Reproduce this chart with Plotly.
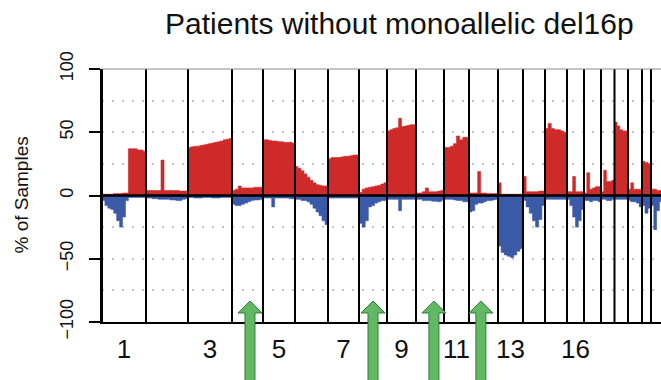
import plotly.graph_objects as go

# Chromosomes 1-22, relative plotting widths (X/Y not shown)
chrom_names = [str(i) for i in range(1, 23)]
chrom_len = [44, 42, 44, 31, 32, 33, 31, 28, 29, 28, 25, 29, 25, 22, 22,
             17, 17, 13.5, 13.5, 14, 9, 14]

# Chromosomes that carry a number under the axis
label_chroms = ["1", "3", "5", "7", "9", "11", "13", "16"]

# Frequency of copy-number gain (%) along each chromosome, evenly spaced bins
gain_pct = [
    [1, 1, 1, 1, 1.5, 1.5, 1.5, 2, 2, 37, 37, 37, 36, 36, 35],
    [4, 4, 4, 4, 4, 28, 4, 4, 4, 4, 4, 3.5, 3.5, 3.5],
    [38, 38.5, 39, 39, 39.5, 40, 40.5, 41, 41.5, 42, 42.5, 43, 44, 44.5, 45],
    [4, 5, 7.5, 6, 6, 6, 6, 6.5, 6.5, 6.5],
    [44, 44, 43.5, 43, 43, 42.5, 42.5, 42, 42, 42, 41.5],
    [23, 21.5, 19.5, 17, 14.5, 12, 10, 8.5, 8, 7.5, 7.5],
    [29, 30, 30, 30, 30.5, 31, 31, 31.5, 32, 32],
    [2.5, 5, 6, 6.5, 7, 7.5, 8, 9, 10],
    [51, 52, 53, 53.5, 61, 54.5, 55, 55.5, 56, 56],
    [2, 2, 3, 6, 3, 3, 3, 3.5, 4],
    [38, 38, 39, 41, 47, 44, 46, 46],
    [2, 2, 2, 19, 2, 2, 1.5, 1.5, 1.5, 1.5],
    [10, 1, 1, 1, 1, 1, 1, 1],
    [15, 3, 3, 3, 3, 3.5, 3.5],
    [53, 57, 53, 52, 52, 51, 50],
    [3, 3, 15, 3, 3, 3],
    [2, 18, 5, 6, 7, 7],
    [3, 20, 11, 11, 12],
    [58, 55, 52, 51, 51],
    [5, 10, 5, 5, 5],
    [27, 26, 25],
    [5, 5, 4, 4, 4],
]

# Frequency of copy-number loss (%) along each chromosome, same bins
loss_pct = [
    [-4, -8, -10, -11, -14, -20, -25, -17, -4, -1.5, -1.5, -1.5, -1.5, -1.5, -1.5],
    [-2, -2, -2.5, -2.5, -3, -3, -3, -3, -3.5, -3.5, -4, -4, -3, -2.5],
    [-1.5, -1.5, -2, -2, -2, -1.5, -1.5, -1.5, -2, -2, -2, -1.5, -1.5, -1.5, -1.5],
    [-7, -8, -8, -7, -6, -5, -4, -3.5, -3.5, -3],
    [-2, -2, -2, -9, -2, -2, -2, -2, -2, -2.5, -2.5],
    [-3, -3, -4, -4, -5, -7, -10, -13, -16, -20, -23],
    [-2, -2, -2, -2, -2, -2, -2, -2, -2, -2],
    [-22, -25, -20, -9, -8, -6, -5, -4, -4],
    [-3, -3, -3, -3, -12, -3, -3, -3, -3, -3],
    [-3, -3, -4, -4, -4, -4.5, -4.5, -5, -4],
    [-3, -3, -3, -3.5, -4, -4, -5, -5],
    [-13, -12, -7, -6, -6, -5, -4, -4, -3.5, -3],
    [-40, -45, -47, -48, -49, -47, -44, -42],
    [-4, -9, -14, -20, -25, -19, -8],
    [-3, -3, -3, -3, -3, -3, -3],
    [-3, -8, -17, -25, -20, -11],
    [-4, -4, -5, -4, -4, -5],
    [-3, -3, -4, -4, -3],
    [-3, -3, -3, -3, -3],
    [-4, -5, -5, -6, -9],
    [-8, -14, -10],
    [-8, -27, -12, -5, -4],
]

# Highlighted chromosomes (arrow) and relative position along each
arrow_chroms = ["4", "8", "10", "12"]
arrow_frac = [0.58, 0.5, 0.64, 0.41]

RED = "#cf2a2a"
BLUE = "#3a59a6"
GREEN = "#63b963"
GREEN_EDGE = "#2f7d3a"
FONT = "Liberation Sans, Arial, Helvetica, sans-serif"
X_VIEW = 559  # visible genome span

# Chromosome start positions on the concatenated genome axis
starts = []
pos = 0.0
for w in chrom_len:
    starts.append(pos)
    pos += w
genome_end = pos

# Step profiles across the genome
xs, gy, ly = [], [], []
for s, w, g, l in zip(starts, chrom_len, gain_pct, loss_pct):
    n = len(g)
    for i in range(n):
        xs.append(s + i * w / n)
        gy.append(g[i])
        ly.append(l[i])
    xs.append(s + w)
    gy.append(g[-1])
    ly.append(l[-1])

fig = go.Figure()
fig.add_trace(go.Scatter(x=xs, y=gy, mode="lines", fill="tozeroy",
                         line=dict(shape="hv", color=RED, width=0.6),
                         fillcolor=RED, hoverinfo="skip"))
fig.add_trace(go.Scatter(x=xs, y=ly, mode="lines", fill="tozeroy",
                         line=dict(shape="hv", color=BLUE, width=0.6),
                         fillcolor=BLUE, hoverinfo="skip"))

shapes = []
# chromosome boundaries
for b in starts + [genome_end]:
    shapes.append(dict(type="line", xref="x", yref="y", x0=b, x1=b,
                       y0=-100, y1=100, layer="above",
                       line=dict(color="black", width=2)))
# zero baseline
shapes.append(dict(type="line", xref="x", yref="y", x0=0, x1=genome_end,
                   y0=0, y1=0, layer="above",
                   line=dict(color="black", width=2.4)))
# top frame
shapes.append(dict(type="line", xref="paper", yref="paper", x0=0, x1=1,
                   y0=1, y1=1, layer="above",
                   line=dict(color="#8a8a8a", width=1)))

# block arrows under the highlighted chromosomes
plot_h = 253.0
tip_y = 21 / plot_h
head_y = 9 / plot_h
tail_y = -63 / plot_h
head_half = 12 / X_VIEW
shaft_half = 5 / X_VIEW
for c, f in zip(arrow_chroms, arrow_frac):
    k = chrom_names.index(c)
    xc = (starts[k] + f * chrom_len[k]) / X_VIEW
    path = (f"M {xc - shaft_half} {tail_y} L {xc - shaft_half} {head_y} "
            f"L {xc - head_half} {head_y} L {xc} {tip_y} "
            f"L {xc + head_half} {head_y} L {xc + shaft_half} {head_y} "
            f"L {xc + shaft_half} {tail_y} Z")
    shapes.append(dict(type="path", xref="paper", yref="paper", path=path,
                       layer="above", fillcolor=GREEN,
                       line=dict(color=GREEN_EDGE, width=1)))

label_pos = [starts[chrom_names.index(c)] + chrom_len[chrom_names.index(c)] / 2
             for c in label_chroms]

grid_style = dict(showgrid=True, gridcolor="#c4c4c4", griddash="2px,8px",
                  gridwidth=2)

fig.update_layout(
    width=661, height=380,
    margin=dict(l=102, r=0, t=69, b=58),
    paper_bgcolor="white", plot_bgcolor="white",
    showlegend=False,
    font=dict(family=FONT, color="#111111"),
    shapes=shapes,
    xaxis=dict(range=[0, X_VIEW], tickmode="array", tickvals=label_pos,
               ticktext=label_chroms, ticks="", showgrid=False,
               zeroline=False, showline=True, linecolor="black",
               linewidth=1.5, tickfont=dict(size=26, family=FONT),
               ticklabelstandoff=3),
    yaxis=dict(range=[-100, 100], tickmode="array",
               tickvals=[-100, -50, 0, 50, 100],
               ticktext=["\u2212100", "\u221250", "0", "50", "100"],
               tickangle=-90, ticks="outside", ticklen=11, tickwidth=1.5,
               tickcolor="black", showline=True, linecolor="black",
               linewidth=1.5, zeroline=False,
               tickfont=dict(size=18, family=FONT),
               ticklabelstandoff=9,
               minor=dict(tickvals=[-75, -25, 25, 75], ticks="", **grid_style),
               **grid_style),
    annotations=[
        dict(text="Patients without monoallelic del16p", xref="paper",
             yref="paper", x=(399 - 102) / X_VIEW, y=1 + 45 / plot_h,
             xanchor="center", yanchor="middle", showarrow=False,
             font=dict(size=30, family=FONT, color="#111111")),
        dict(text="% of Samples", xref="paper", yref="paper",
             x=-81 / X_VIEW, y=0.5, textangle=-90, xanchor="center",
             yanchor="middle", showarrow=False,
             font=dict(size=19, family=FONT, color="#111111")),
    ],
)

fig.write_html("out.html")
